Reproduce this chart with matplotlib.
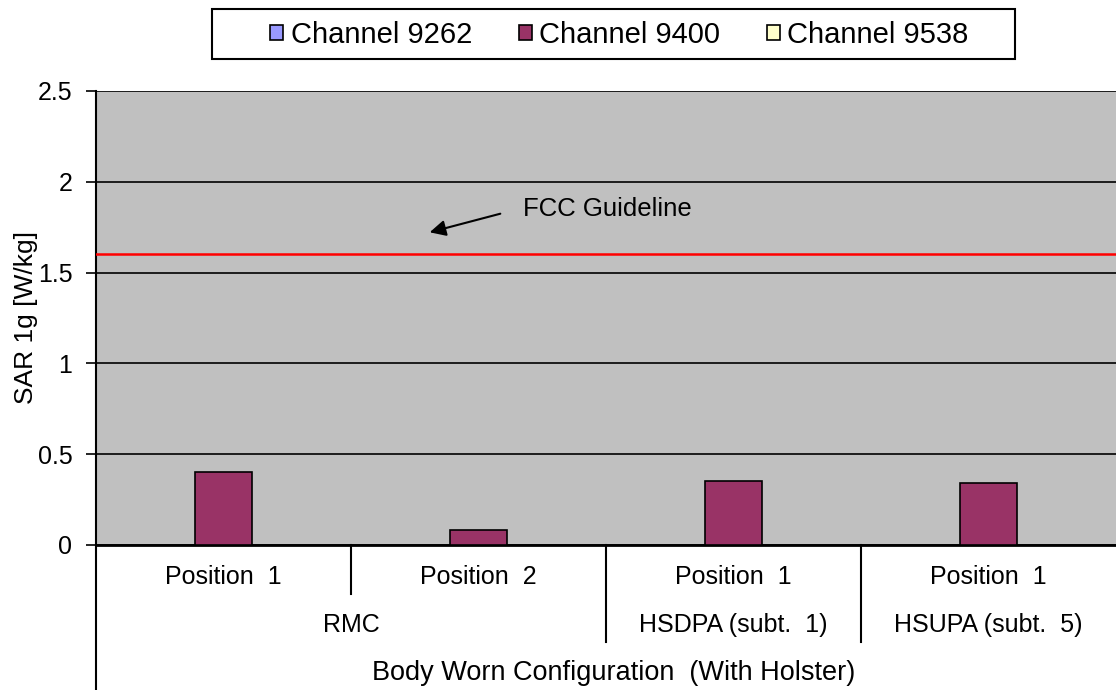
import numpy as np
import matplotlib
matplotlib.use("Agg")
import matplotlib.pyplot as plt
from matplotlib.lines import Line2D
from matplotlib.patches import Rectangle

plt.rcParams['font.family'] = ['Liberation Sans', 'DejaVu Sans']

positions = ["Position  1", "Position  2", "Position  1", "Position  1"]
modes = ["RMC", "HSDPA (subt.  1)", "HSUPA (subt.  5)"]
mode_spans = [(0, 2), (2, 3), (3, 4)]
config_label = "Body Worn Configuration  (With Holster)"
series_names = ["Channel 9262", "Channel 9400", "Channel 9538"]
series_values = [
    [np.nan, np.nan, np.nan, np.nan],
    [0.40, 0.08, 0.35, 0.34],
    [np.nan, np.nan, np.nan, np.nan],
]
series_colors = ["#9999FF", "#993366", "#FFFFCC"]
fcc_limit = 1.6
yticks = [0, 0.5, 1, 1.5, 2, 2.5]
ytick_labels = ["0", "0.5", "1", "1.5", "2", "2.5"]

FS = 18
W, H = 1116, 690
fig = plt.figure(figsize=(W / 100, H / 100), dpi=100)
ax_left, ax_right, ax_top, ax_bot = 96, 1116, 91, 545
ax = fig.add_axes([ax_left / W, 1 - ax_bot / H, (ax_right - ax_left) / W, (ax_bot - ax_top) / H])
ax.set_facecolor("#C0C0C0")

n = len(positions)
x = np.arange(n) + 0.5
bw = 0.222
handles = []
for i, (name, vals, col) in enumerate(zip(series_names, series_values, series_colors)):
    b = ax.bar(x + (i - 1) * bw, vals, width=bw, color=col, edgecolor="black", linewidth=1.2, label=name, zorder=3)
    handles.append(b)

ax.set_xlim(0, n)
ax.set_ylim(0, 2.5)
ax.set_yticks(yticks)
ax.set_yticklabels(ytick_labels, fontsize=FS)
ax.yaxis.grid(True, color="black", linewidth=1.2)
ax.set_axisbelow(True)
ax.set_xticks([])
ax.tick_params(axis="y", direction="out", length=7, width=1.2, pad=10)
for s in ["top", "right"]:
    ax.spines[s].set_visible(False)
ax.spines["left"].set_linewidth(1.5)
ax.spines["bottom"].set_linewidth(2)
ax.set_ylabel("SAR 1g [W/kg]", fontsize=19, labelpad=0)

def xd(px):
    return (px - ax_left) / (ax_right - ax_left) * n

def yd(py):
    return (ax_bot - py) / (ax_bot - ax_top) * 2.5

ax.axhline(fcc_limit, color="red", linewidth=1.8, zorder=4)
ax.annotate("", xy=(xd(427), yd(233)), xytext=(xd(503), yd(213)),
            arrowprops=dict(arrowstyle="-|>", color="black", lw=1.5, mutation_scale=24), zorder=5)
ax.text(xd(523), yd(209), "FCC Guideline", fontsize=18.5, va="center", ha="left")

tr = ax.get_xaxis_transform()
def ya(py):
    return (ax_bot - py) / (ax_bot - ax_top)

for xi, lab in zip(x, positions):
    ax.text(xi, ya(577), lab, transform=tr, ha="center", va="center", fontsize=FS, clip_on=False)
for (a, b), lab in zip(mode_spans, modes):
    ax.text((a + b) / 2, ya(625), lab, transform=tr, ha="center", va="center", fontsize=FS, clip_on=False)
ax.text(xd(614), ya(673), config_label, transform=tr, ha="center", va="center", fontsize=19.5, clip_on=False)

ax.add_line(Line2D([1, 1], [0, ya(594)], transform=tr, color="black", lw=1.5, clip_on=False))
for xb in [2, 3]:
    ax.add_line(Line2D([xb, xb], [0, ya(642)], transform=tr, color="black", lw=1.5, clip_on=False))
ax.add_line(Line2D([0, 0], [0, ya(690)], transform=tr, color="black", lw=1.5, clip_on=False))

# legend box
lx0, lx1, ly0, ly1 = 212, 1015, 9, 59
fig.patches.append(Rectangle((lx0 / W, 1 - ly1 / H), (lx1 - lx0) / W, (ly1 - ly0) / H,
                             transform=fig.transFigure, facecolor="white", edgecolor="black",
                             linewidth=1.5, zorder=1))
leg = fig.legend(handles=handles, labels=series_names, loc="center", ncol=3,
                 bbox_to_anchor=(((lx0 + lx1) / 2 + 6) / W, 1 - 35 / H), fontsize=21, frameon=False,
                 handlelength=0.45, handleheight=0.45, handletextpad=0.25,
                 columnspacing=1.6, borderpad=0.0, borderaxespad=0)
leg.set_zorder(2)

fig.savefig("out.png", dpi=100)
